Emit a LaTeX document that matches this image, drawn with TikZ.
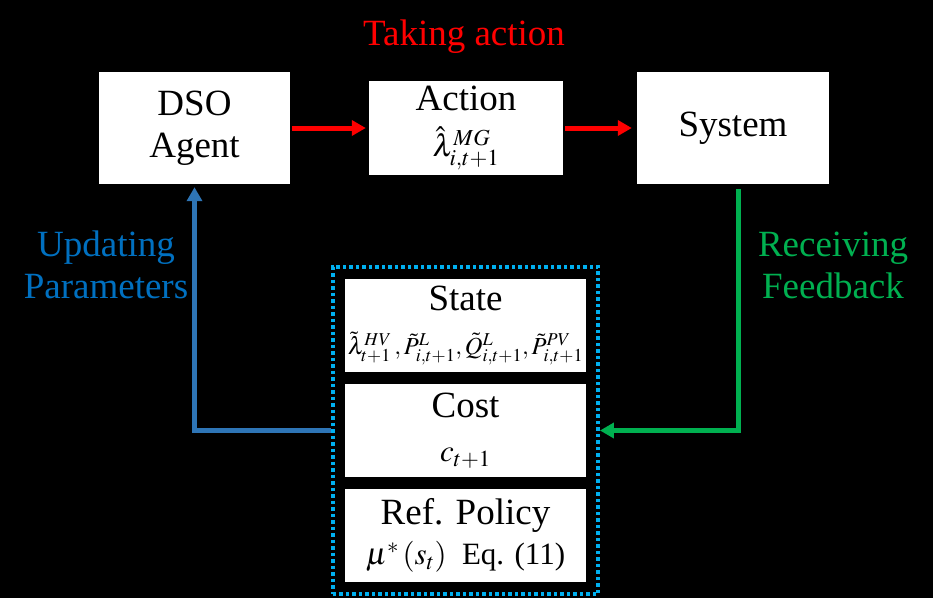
\documentclass[tikz,border=0pt]{standalone}
\usepackage{mathptmx}
\usepackage[no-math]{fontspec}
\setmainfont{Liberation Serif}
\usetikzlibrary{arrows.meta}
\usetikzlibrary{fit}
\definecolor{actred}{HTML}{FF0000}
\definecolor{updline}{HTML}{2E75B6}
\definecolor{updtext}{HTML}{0070C0}
\definecolor{fbgreen}{HTML}{00B050}
\definecolor{dotcyan}{HTML}{00B0F0}
\newcommand{\boxfont}{\fontsize{37}{42}\selectfont}
\newcommand{\eqfont}{\fontsize{31}{40}\selectfont}
\newcommand{\smalleqfont}{\fontsize{24.5}{36}\selectfont}

\begin{document}
\begin{tikzpicture}[x=1pt,y=-1pt,
    box/.style={fill=white, text=black, inner sep=0pt, align=center, font=\boxfont},
    inner/.style={box, minimum width=241pt, minimum height=93pt},
    flow/.style={line width=5pt, -{Triangle[length=14pt,width=15pt]}},
    lbl/.style={align=center, font=\boxfont}]
    \fill[black] (0,0) rectangle (933,598);  %Hintergrund
    % obere Reihe
    \node[box, minimum width=191pt, minimum height=112pt] (agent) at (194.5,128) {DSO\\Agent};
    \node[box, minimum width=194pt, minimum height=94pt] (action) at (466,128)
      {Action\\[4pt]\eqfont$\hat{\lambda}^{MG}_{i,t+1}$};
    \node[box, minimum width=192pt, minimum height=112pt] (system) at (733,128) {System};
    % untere Spalte
    \node[inner] (state) at (465.5,325.5)
      {State\\[2pt]\smalleqfont$\tilde{\lambda}^{HV}_{t+1}\,,\tilde{P}^{L}_{i,t+1},\tilde{Q}^{L}_{i,t+1},\tilde{P}^{PV}_{i,t+1}$};
    \node[inner] (cost) at (465.5,430.5) {Cost\\[2pt]\eqfont$c_{t+1}$};
    \node[inner] (policy) at (465.5,535.5)
      {Ref. Policy\\[-2pt]\eqfont$\mu^{*}\left(s_{t}\right)$\enspace Eq. (11)};
    \node[draw=dotcyan, line width=3.5pt, dash pattern=on 3.5pt off 3pt, inner sep=12pt,
      fit=(state)(cost)(policy)] (frame) {};
    % Pfeile
    \draw[flow, actred, shorten <=2pt, shorten >=3pt] (agent) -- (action);
    \draw[flow, actred, shorten <=2pt, shorten >=5pt] (action) -- (system);
    \draw[flow, updline, shorten >=3pt] (frame.west |- cost) -| (agent.south);
    \draw[flow, fbgreen, shorten <=5pt] ([xshift=5pt]system.south) |- (frame.east |- cost);
    % Beschriftungen
    \node[lbl, text=actred] (take) at (464,37) {Taking action};
    \node[lbl, text=updtext] (update) at (106,265) {Updating\\Parameters};
    \node[lbl, text=fbgreen] (receive) at (833,265) {Receiving\\Feedback};
\end{tikzpicture}
\end{document}
